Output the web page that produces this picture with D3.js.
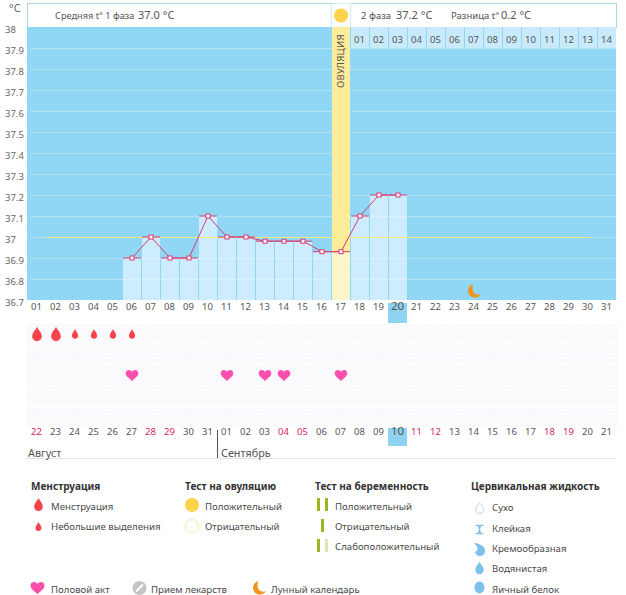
<!DOCTYPE html>
<html>
<head>
<meta charset="utf-8">
<script src="https://cdn.jsdelivr.net/npm/d3@7"></script>
<style>
body { margin: 0; background: #fff; }
text { font-family: "Noto Sans", sans-serif; }
</style>
</head>
<body>
<svg id="chart" width="626" height="595"></svg>
<script>
// chart values
const days = d3.range(1, 32);
const dayLabels = days.map(d => d3.format("02")(d));
const dateLabels = ["22","23","24","25","26","27","28","29","30","31","01","02","03","04","05","06","07","08","09","10","11","12","13","14","15","16","17","18","19","20","21"];
const redDates = [1, 7, 8, 14, 15, 21, 22, 28, 29];
const tempDays = [6, 7, 8, 9, 10, 11, 12, 13, 14, 15, 16, 17, 18, 19, 20];
const temps = [36.9, 37.0, 36.9, 36.9, 37.1, 37.0, 37.0, 36.98, 36.98, 36.98, 36.93, 36.93, 37.1, 37.2, 37.2];
const yTicks = [38, 37.9, 37.8, 37.7, 37.6, 37.5, 37.4, 37.3, 37.2, 37.1, 37, 36.9, 36.8, 36.7];
const phase2Days = d3.range(18, 32);
const phase2Labels = ["01","02","03","04","05","06","07","08","09","10","11","12","13","14"];
const heavyDays = [1, 2];
const lightDays = [3, 4, 5, 6];
const sexDays = [6, 11, 13, 14, 17];
const ovulationDay = 17;
const todayDay = 20;
const moonDay = 24;
const coverLine = 37;

const svg = d3.select("#chart");

const x = d3.scaleBand().domain(days).range([27, 616]);
const y = d3.scaleLinear().domain([36.7, 38]).range([300, 27]);
const bw = x.bandwidth();
const cx = d => x(d) + bw / 2;

const dropPath = "M0,-9C1,-6 6,-2 6,3A6,6 0 0 1 -6,3C-6,-2 -1,-6 0,-9Z";
const heartPath = "M0,6C-3,3 -7,1 -7,-2.5C-7,-5 -5,-6 -3.5,-6C-2,-6 -0.7,-5.2 0,-4C0.7,-5.2 2,-6 3.5,-6C5,-6 7,-5 7,-2.5C7,1 3,3 0,6Z";
const moonPath = "M-1,-8A8,8 0 1 0 8,3.5C3,6 -4,2.5 -1,-8Z";

// header boxes
const header = svg.append("g");
header.append("rect").attr("x", 27.5).attr("y", 3.5).attr("width", 304).attr("height", 24)
    .attr("fill", "#fff").attr("stroke", "#a9d9e8");
header.append("rect").attr("x", 350.5).attr("y", 3.5).attr("width", 266).attr("height", 24)
    .attr("fill", "#fff").attr("stroke", "#a9d9e8");
header.append("rect").attr("x", 331.5).attr("y", 3.5).attr("width", 19).attr("height", 24)
    .attr("fill", "#fdfeff").attr("stroke", "#d5ecf4");
header.append("circle").attr("cx", cx(ovulationDay) + 0.5).attr("cy", 15.5).attr("r", 7).attr("fill", "#fdd34b");

const headerText = [
    { x: 55, t: "Средняя t° 1 фаза", s: 9.2 }, { x: 138, t: "37.0 °C", s: 11 },
    { x: 361, t: "2 фаза", s: 9.5 }, { x: 396, t: "37.2 °C", s: 11 },
    { x: 451, t: "Разница t°", s: 9.5 }, { x: 501, t: "0.2 °C", s: 11 }
];
header.selectAll("text").data(headerText).enter().append("text")
    .attr("x", d => d.x).attr("y", 19)
    .attr("font-size", d => d.s).attr("fill", "#555").text(d => d.t);

// plot background
svg.append("rect").attr("x", 27).attr("y", 27).attr("width", 589).attr("height", 273).attr("fill", "#90d7f5");

// second phase day numbers
svg.selectAll(".phase2").data(phase2Days).enter().append("rect")
    .attr("class", "phase2")
    .attr("x", d => x(d) + 1).attr("y", 27).attr("width", bw - 1).attr("height", 21)
    .attr("fill", "#c9eafb");
svg.selectAll(".phase2-label").data(phase2Days).enter().append("text")
    .attr("class", "phase2-label")
    .attr("x", cx).attr("y", 43).attr("text-anchor", "middle")
    .attr("font-size", 9.5).attr("fill", "#555")
    .text((d, i) => phase2Labels[i]);

// temperature columns
svg.selectAll(".bar").data(tempDays).enter().append("rect")
    .attr("class", "bar")
    .attr("x", d => x(d) + 1).attr("width", bw - 1)
    .attr("y", (d, i) => y(temps[i])).attr("height", (d, i) => 300 - y(temps[i]))
    .attr("fill", "#cdecfd");

// dotted grid
svg.selectAll(".grid").data(yTicks.filter(t => t < 38 && t > 36.7)).enter().append("line")
    .attr("class", "grid")
    .attr("x1", 30).attr("x2", 616)
    .attr("y1", d => Math.round(y(d)) + 0.5).attr("y2", d => Math.round(y(d)) + 0.5)
    .attr("stroke", "#fff").attr("stroke-dasharray", "1,1").attr("opacity", 0.6);

// ovulation column
svg.append("rect").attr("x", x(ovulationDay) + 1).attr("y", 27).attr("width", bw - 1).attr("height", 273).attr("fill", "#fdec9a");
svg.append("rect").attr("x", x(ovulationDay) + 1).attr("y", y(temps[tempDays.indexOf(ovulationDay)]))
    .attr("width", bw - 1).attr("height", 300 - y(temps[tempDays.indexOf(ovulationDay)])).attr("fill", "#fdf6c8");
svg.append("text").attr("transform", "translate(" + (cx(ovulationDay) + 3.5) + ",88) rotate(-90)")
    .attr("font-size", 9.5).attr("fill", "#555").attr("letter-spacing", 0.3).text("ОВУЛЯЦИЯ");

// cover line
svg.append("line").attr("x1", 46).attr("x2", 590)
    .attr("y1", Math.round(y(coverLine)) + 0.5).attr("y2", Math.round(y(coverLine)) + 0.5)
    .attr("stroke", "#f5ec80");

// temperature line and markers
const mx = d => x(d) + 10;
const line = d3.line().x(d => mx(d)).y((d, i) => y(temps[i]));
svg.append("path").datum(tempDays).attr("d", line).attr("fill", "none").attr("stroke", "#d93a74");
svg.selectAll(".cap").data(tempDays).enter().append("line")
    .attr("class", "cap")
    .attr("x1", d => x(d) + 1).attr("x2", d => x(d) + bw)
    .attr("y1", (d, i) => y(temps[i])).attr("y2", (d, i) => y(temps[i]))
    .attr("stroke", "#d93a74");
svg.selectAll(".marker").data(tempDays).enter().append("rect")
    .attr("class", "marker")
    .attr("x", d => mx(d) - 2).attr("y", (d, i) => y(temps[i]) - 2)
    .attr("width", 4).attr("height", 4)
    .attr("fill", "#fff").attr("stroke", "#d93a74");

// moon on the plot
svg.append("path").attr("d", moonPath)
    .attr("transform", "translate(" + (cx(moonDay) + 0.5) + ",291) scale(0.85)")
    .attr("fill", "#f0951e");

// y axis
const yAxis = svg.append("g").attr("transform", "translate(5,2)")
    .call(d3.axisRight(y).tickValues(yTicks).tickSize(0).tickPadding(0).tickFormat(d => String(d)));
yAxis.select(".domain").remove();
yAxis.selectAll("text").attr("font-size", 9.5).attr("fill", "#666").attr("font-family", "Noto Sans");
svg.append("text").attr("x", 9).attr("y", 12).attr("font-size", 11).attr("fill", "#666").text("°C");

// today highlights
svg.append("rect").attr("x", x(todayDay)).attr("y", 303).attr("width", bw).attr("height", 20).attr("fill", "#8fd3f0");
svg.append("rect").attr("x", x(todayDay)).attr("y", 428).attr("width", bw).attr("height", 18).attr("fill", "#8fd3f0");

// planner grid
const grid = svg.append("g");
const gridBands = d3.range(324, 428, 21);
const gridRows = d3.range(324, 428, 7);
const gridCols = d3.range(27, 617, 9.5);
grid.selectAll(".band").data(gridBands).enter().append("rect").attr("class", "band")
    .attr("x", 27).attr("width", 589).attr("y", d => d).attr("height", 19)
    .attr("fill", "#fbfafd");
grid.selectAll(".row").data(gridRows).enter().append("line").attr("class", "row")
    .attr("x1", 27).attr("x2", 616).attr("y1", d => d + 0.5).attr("y2", d => d + 0.5)
    .attr("stroke", "#f8f7fb");
grid.selectAll(".col").data(gridCols).enter().append("line").attr("class", "col")
    .attr("x1", d => d + 0.5).attr("x2", d => d + 0.5).attr("y1", 324).attr("y2", 427)
    .attr("stroke", "#f8f7fb");

// day axis
const dayAxis = svg.append("g").attr("transform", "translate(0,312)")
    .call(d3.axisBottom(x).tickSize(0).tickPadding(0).tickFormat((d, i) => dayLabels[i]));
dayAxis.select(".domain").remove();
dayAxis.selectAll("text").attr("font-size", d => d === todayDay ? 11.5 : 9.5).attr("fill", "#555").attr("font-family", "Noto Sans").attr("dy", "-0.2em");

// date axis
const dateAxis = svg.append("g").attr("transform", "translate(0,437)")
    .call(d3.axisBottom(x).tickSize(0).tickPadding(0).tickFormat((d, i) => dateLabels[i]));
dateAxis.select(".domain").remove();
dateAxis.selectAll("text").attr("font-size", d => d === todayDay ? 11.5 : 9.5).attr("font-family", "Noto Sans").attr("dy", "-0.2em")
    .attr("fill", (d) => redDates.includes(d) ? "#d6245f" : "#555");

// planner marks
svg.selectAll(".heavy").data(heavyDays).enter().append("path").attr("class", "heavy")
    .attr("d", dropPath)
    .attr("transform", d => "translate(" + (cx(d) + 0.5) + ",334) scale(0.8)").attr("fill", "#f8434b");
svg.selectAll(".light").data(lightDays).enter().append("path").attr("class", "light")
    .attr("d", dropPath)
    .attr("transform", d => "translate(" + (cx(d) + 0.5) + ",334) scale(0.52)").attr("fill", "#f8434b");
svg.selectAll(".sex").data(sexDays).enter().append("path").attr("class", "sex")
    .attr("d", heartPath)
    .attr("transform", d => "translate(" + (cx(d) + 0.5) + ",375.5) scale(0.9)").attr("fill", "#fb4fae");

// months
svg.append("line").attr("x1", 217.5).attr("x2", 217.5).attr("y1", 430).attr("y2", 458).attr("stroke", "#555");
svg.append("line").attr("x1", 27).attr("x2", 616).attr("y1", 458.5).attr("y2", 458.5).attr("stroke", "#e3e3e3");
svg.append("text").attr("x", 28).attr("y", 457).attr("font-size", 10.8).attr("fill", "#555").text("Август");
svg.append("text").attr("x", 221).attr("y", 457).attr("font-size", 10.8).attr("fill", "#555").text("Сентябрь");

// legend
const legendTitles = [
    { x: 31, y: 489.5, t: "Менструация" },
    { x: 185, y: 489.5, t: "Тест на овуляцию" },
    { x: 315, y: 489.5, t: "Тест на беременность" },
    { x: 471, y: 489.5, t: "Цервикальная жидкость" }
];
const legendItems = [
    { x: 51, y: 509.5, t: "Менструация" },
    { x: 51, y: 530, t: "Небольшие выделения" },
    { x: 205, y: 509.5, t: "Положительный" },
    { x: 205, y: 530, t: "Отрицательный" },
    { x: 335, y: 509.5, t: "Положительный" },
    { x: 335, y: 530, t: "Отрицательный" },
    { x: 335, y: 550, t: "Слабоположительный" },
    { x: 492, y: 511, t: "Сухо" },
    { x: 492, y: 532, t: "Клейкая" },
    { x: 492, y: 552, t: "Кремообразная" },
    { x: 492, y: 572, t: "Водянистая" },
    { x: 492, y: 593, t: "Яичный белок" },
    { x: 51, y: 593, t: "Половой акт" },
    { x: 151, y: 593, t: "Прием лекарств" },
    { x: 271, y: 593, t: "Лунный календарь" }
];
svg.selectAll(".lt").data(legendTitles).enter().append("text").attr("class", "lt")
    .attr("x", d => d.x).attr("y", d => d.y).attr("font-size", 10.05).attr("font-weight", "bold").attr("fill", "#333").text(d => d.t);
svg.selectAll(".li").data(legendItems).enter().append("text").attr("class", "li")
    .attr("x", d => d.x).attr("y", d => d.y).attr("font-size", 9.65).attr("fill", "#4a4a4a").text(d => d.t);

// legend icons
const icons = svg.append("g");
icons.append("path").attr("d", dropPath).attr("transform", "translate(38.5,504.5) scale(0.72)").attr("fill", "#f8434b");
icons.append("path").attr("d", dropPath).attr("transform", "translate(38.5,526.5) scale(0.5)").attr("fill", "#f8434b");
icons.append("circle").attr("cx", 192).attr("cy", 505).attr("r", 7).attr("fill", "#fdd34b");
icons.append("circle").attr("cx", 192).attr("cy", 526).attr("r", 6.5).attr("fill", "#fff").attr("stroke", "#fbe8a0");
icons.append("rect").attr("x", 317).attr("y", 498).attr("width", 3).attr("height", 13).attr("fill", "#95b81e");
icons.append("rect").attr("x", 325).attr("y", 498).attr("width", 3).attr("height", 13).attr("fill", "#95b81e");
icons.append("rect").attr("x", 321).attr("y", 519).attr("width", 3).attr("height", 13).attr("fill", "#95b81e");
icons.append("rect").attr("x", 317).attr("y", 539).attr("width", 3).attr("height", 13).attr("fill", "#95b81e");
icons.append("rect").attr("x", 325).attr("y", 539).attr("width", 3).attr("height", 13).attr("fill", "#dbe6b4");
icons.append("path").attr("d", "M0,-7C1,-5 5,-2 5,2A5,5 0 0 1 -5,2C-5,-2 -1,-5 0,-7Z")
    .attr("transform", "translate(479.5,508) scale(0.8)").attr("fill", "#fff").attr("stroke", "#a9cfea");
icons.append("path").attr("d", "M-5,-6H5V-4.5H2L0.7,0L2,4.5H5V6H-5V4.5H-2L-0.7,0L-2,-4.5H-5Z")
    .attr("transform", "translate(479.5,529.5) scale(0.8)").attr("fill", "#7cc0ec");
icons.append("path").attr("d", "M-5,-6C1,-6 6,-2 6,1A5,5 0 0 1 -4,3C0,1 -1,-2 -5,-6Z")
    .attr("transform", "translate(479,549)").attr("fill", "#7cc0ec");
icons.append("path").attr("d", dropPath).attr("transform", "translate(479.5,568) scale(0.7)").attr("fill", "#7cc0ec");
icons.append("ellipse").attr("cx", 479.5).attr("cy", 587.5).attr("rx", 5).attr("ry", 6).attr("fill", "#7cc0ec");
icons.append("path").attr("d", heartPath).attr("transform", "translate(37.5,588)").attr("fill", "#fb4fae");
icons.append("circle").attr("cx", 139.5).attr("cy", 588).attr("r", 7).attr("fill", "#c4c4c4");
icons.append("line").attr("x1", 136).attr("y1", 591.5).attr("x2", 143).attr("y2", 584.5).attr("stroke", "#fff").attr("stroke-width", 2);
icons.append("path").attr("d", moonPath).attr("transform", "translate(259,588) scale(0.85)").attr("fill", "#f0951e");
</script>
</body>
</html>
